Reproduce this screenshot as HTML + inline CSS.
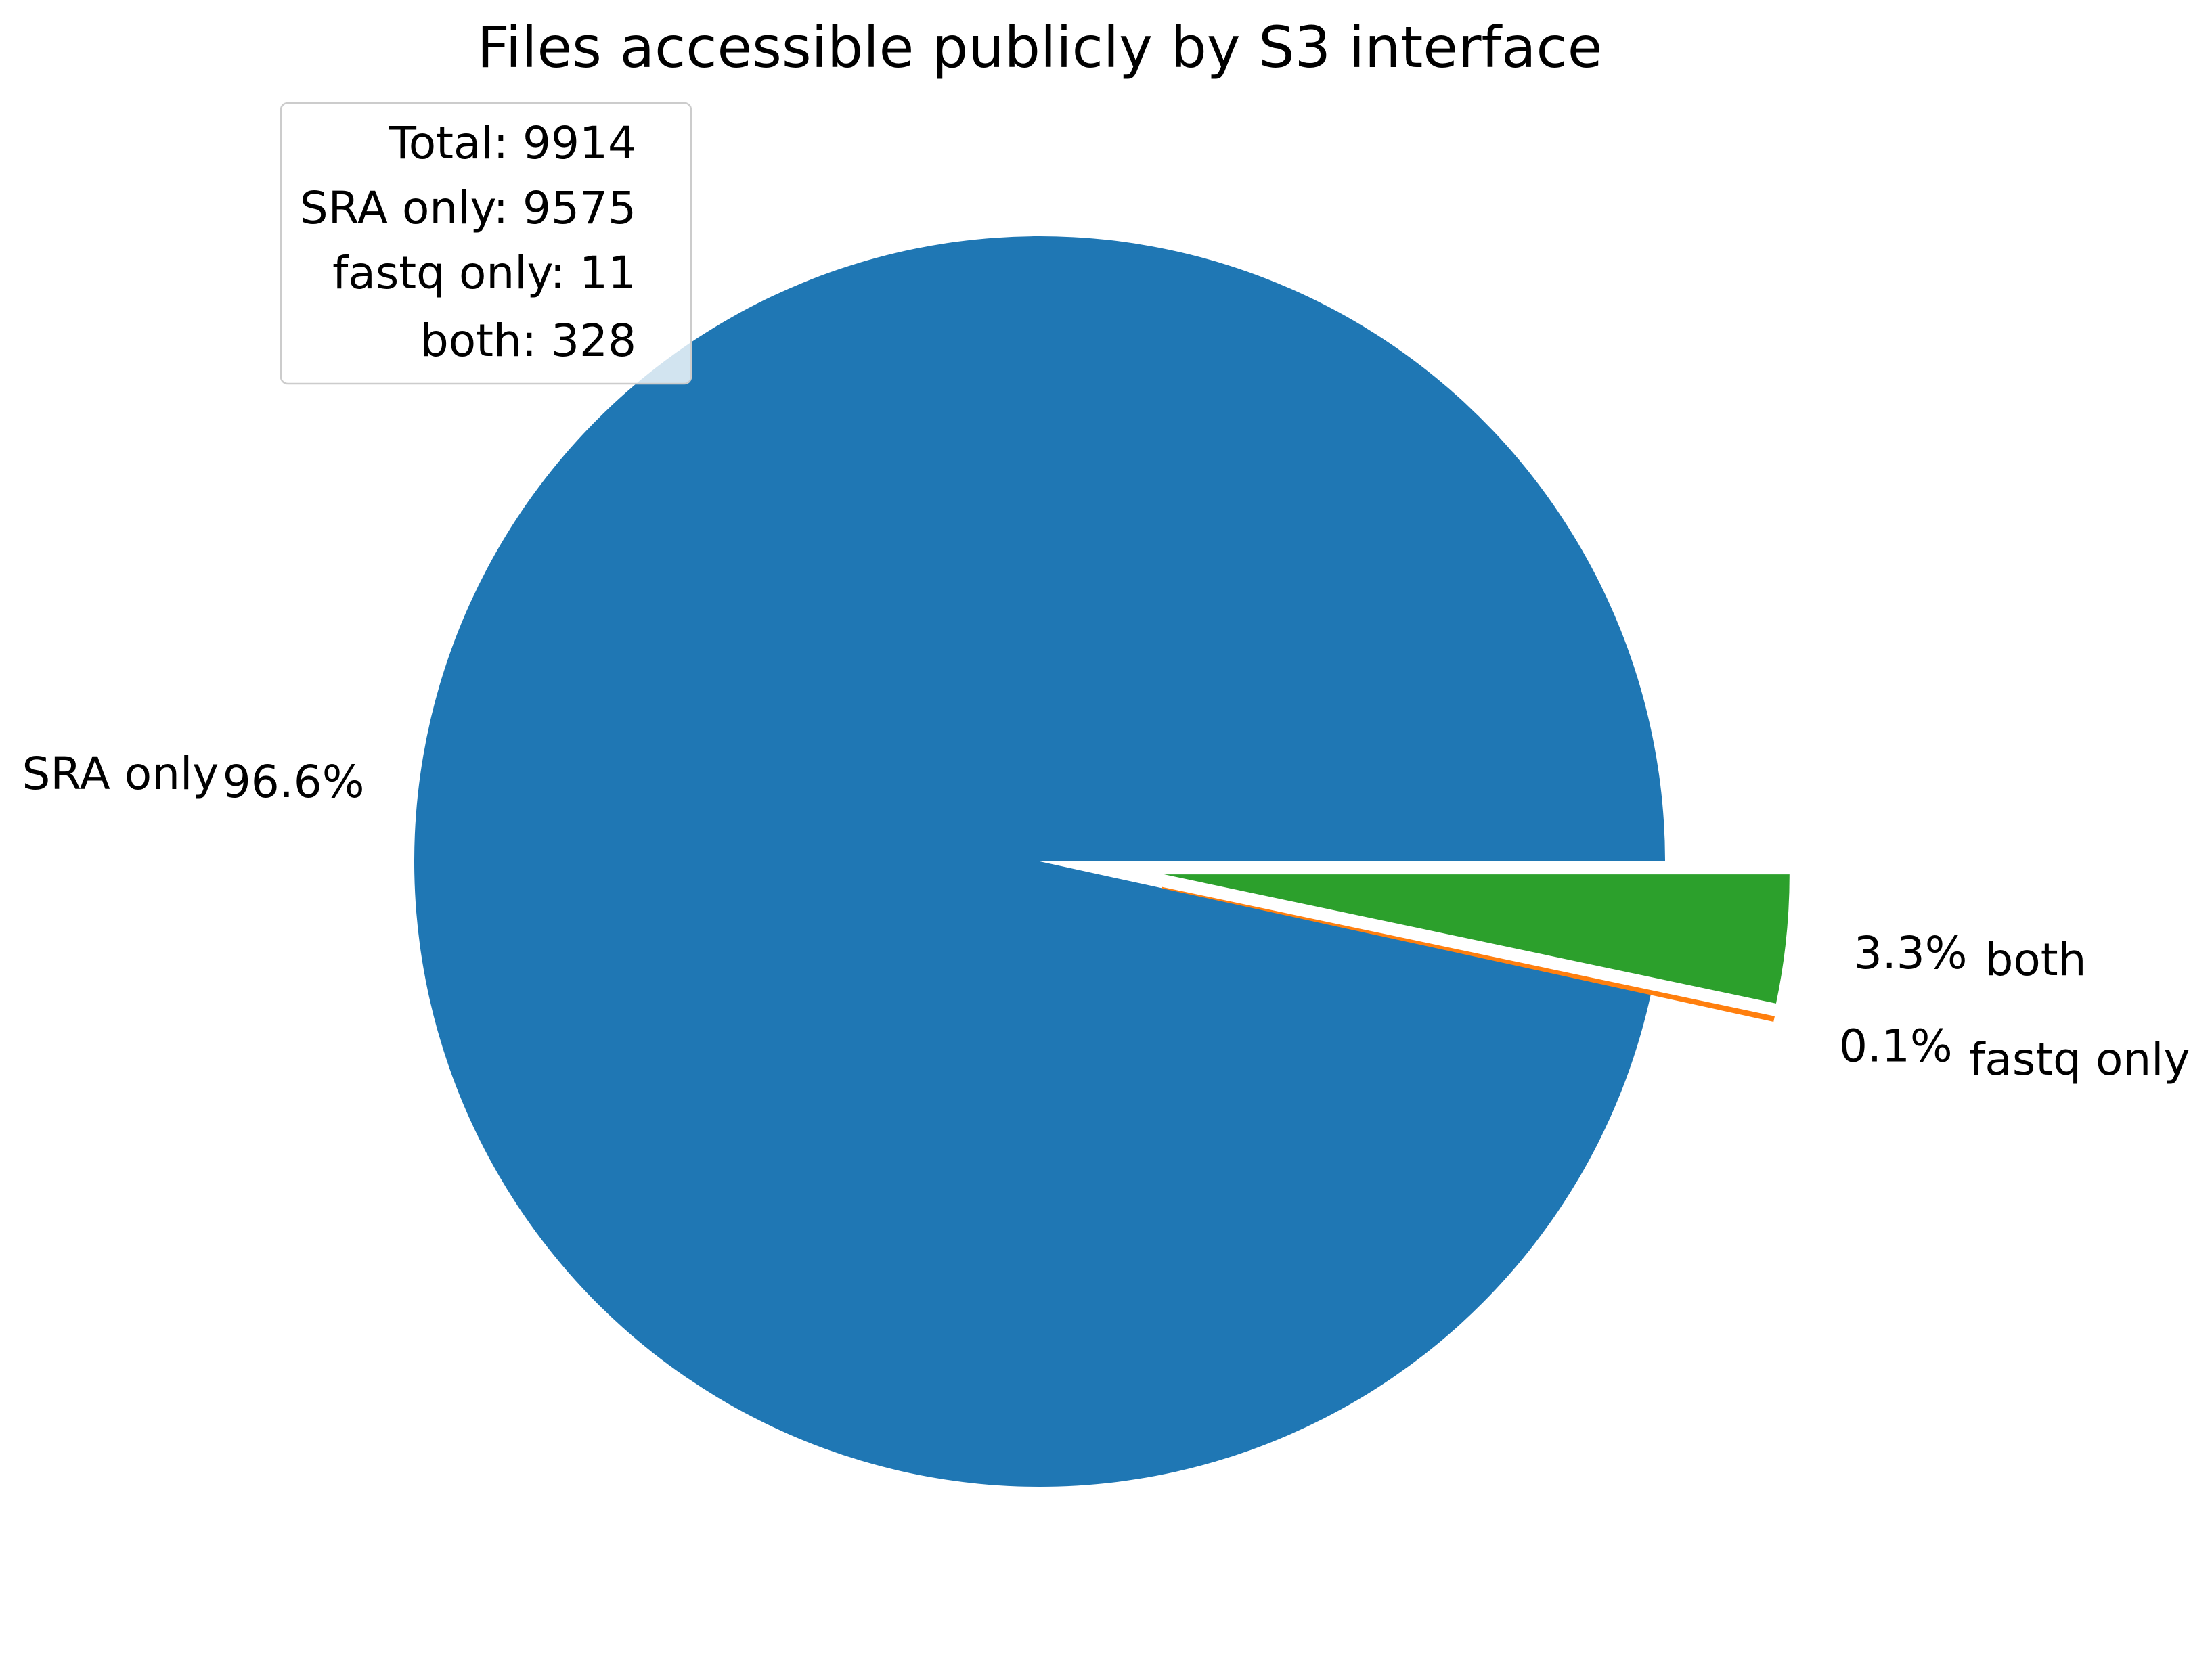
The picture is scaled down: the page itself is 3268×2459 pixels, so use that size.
<!DOCTYPE html>
<html><head><meta charset="utf-8">
<style>
html,body{margin:0;padding:0;background:#fff;}
svg{display:block;font-family:"DejaVu Sans","Liberation Sans",sans-serif;}
</style></head>
<body>
<svg id="chart" width="3268" height="2459" viewBox="0 0 3268 2459" xmlns="http://www.w3.org/2000/svg">
<rect width="3268" height="2459" fill="#fff"/>
<text x="1536" y="99" text-anchor="middle" font-size="84" fill="#000">Files accessible publicly by S3 interface</text>
<g id="slices"></g>
<g id="labels"></g>
<g>
<rect x="415" y="152" width="606" height="415" rx="10" fill="#fff" fill-opacity="0.8" stroke="#ccc" stroke-width="2.5"/>
<text x="940" y="234" text-anchor="end" font-size="66">Total: 9914</text>
<text x="940" y="330" text-anchor="end" font-size="66">SRA only: 9575</text>
<text x="940" y="426" text-anchor="end" font-size="66">fastq only: 11</text>
<text x="940" y="526" text-anchor="end" font-size="66">both: 328</text>
</g>
</svg>
<script>
const categories = ["SRA only", "fastq only", "both"];
const counts = [9575, 11, 328];
const explodes = [0, 0.2, 0.2];
const colors = ["#1f77b4", "#ff7f0e", "#2ca02c"];
const cx = 1536, cy = 1273, R = 924;
const NS = "http://www.w3.org/2000/svg";
const total = counts.reduce((a, b) => a + b, 0);
const gS = document.getElementById("slices"), gL = document.getElementById("labels");
let a0 = 0;
counts.forEach((v, i) => {
  const frac = v / total;
  const a1 = a0 + frac * 360;
  const mid = (a0 + a1) / 2 * Math.PI / 180;
  const ox = cx + explodes[i] * R * Math.cos(mid), oy = cy - explodes[i] * R * Math.sin(mid);
  const p = (a) => [ox + R * Math.cos(a * Math.PI / 180), oy - R * Math.sin(a * Math.PI / 180)];
  const [x0, y0] = p(a0), [x1, y1] = p(a1);
  const large = (a1 - a0) > 180 ? 1 : 0;
  const path = document.createElementNS(NS, "path");
  path.setAttribute("d", `M${ox},${oy} L${x0},${y0} A${R},${R} 0 ${large} 0 ${x1},${y1} Z`);
  path.setAttribute("fill", colors[i]);
  if (frac < 0.01) { path.setAttribute("stroke", colors[i]); path.setAttribute("stroke-width", "2"); }
  
  
  gS.appendChild(path);
  const c = Math.cos(mid), s = Math.sin(mid);
  const pd = 1.2 + explodes[i], ld = (c >= 0 ? 1.3 : 1.32) + explodes[i];
  const pt = document.createElementNS(NS, "text");
  pt.setAttribute("x", cx + pd * R * c);
  pt.setAttribute("y", cy - pd * R * s + 24);
  pt.setAttribute("text-anchor", "middle");
  pt.setAttribute("font-size", "66");
  pt.textContent = (frac * 100).toFixed(1) + "%";
  
  
  gL.appendChild(pt);
  const lt = document.createElementNS(NS, "text");
  lt.setAttribute("x", cx + ld * R * c + (c >= 0 ? 18 : 0));
  lt.setAttribute("y", cy - ld * R * s + 24);
  lt.setAttribute("text-anchor", c >= 0 ? "start" : "end");
  lt.setAttribute("font-size", "66");
  lt.textContent = categories[i];
  
  
  gL.appendChild(lt);
  a0 = a1;
});
</script>
</body></html>
